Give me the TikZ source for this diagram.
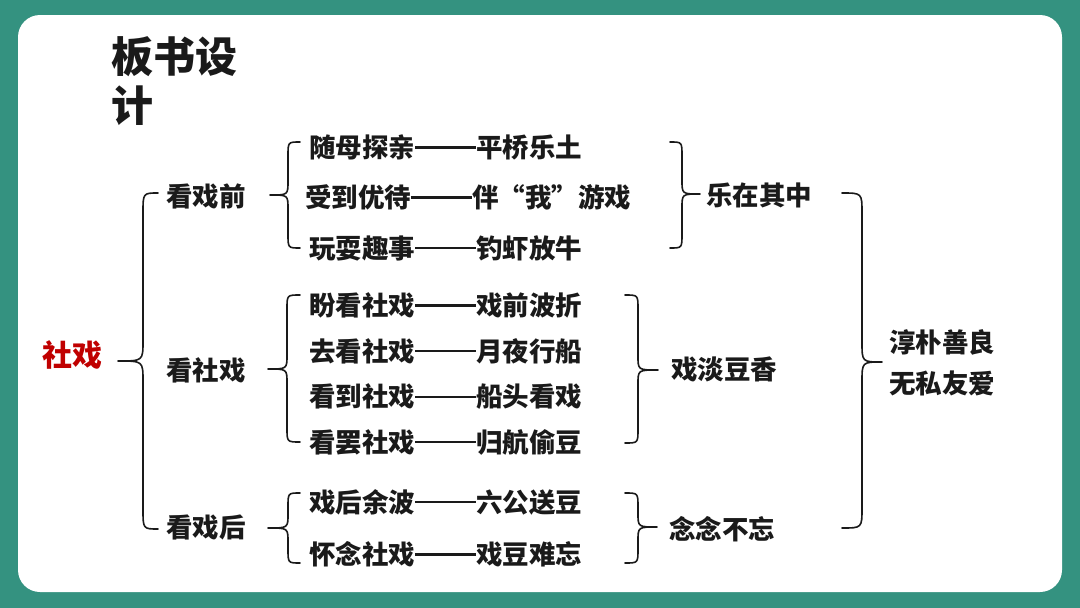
\documentclass[tikz,border=0pt]{standalone}
\usepackage{fontspec}
\setmainfont{Noto Sans CJK SC}
\definecolor{teal0}{RGB}{52,146,128}
\definecolor{red0}{RGB}{192,0,0}
\definecolor{ink}{RGB}{26,26,26}
% #1 end x, #2 vertical x, #3 tip x, #4 top y, #5 tip y, #6 bottom y, #7 curl radius
\newcommand{\curlybrace}[7]{\draw[brc] (#1,#4) .. controls (#2,#4) .. (#2,{#4+#7}) -- (#2,{#5-#7}) .. controls (#2,#5) .. (#3,#5) .. controls (#2,#5) .. (#2,{#5+#7}) -- (#2,{#6-#7}) .. controls (#2,#6) .. (#1,#6);}
\newcommand{\longdash}{\rule[0.325em]{2.3em}{0.105em}}
\tikzset{
  brc/.style={draw=ink, line width=1.6pt, line join=round, line cap=round},
  item/.style={anchor=west, inner sep=0pt, text=ink, font=\fontsize{26.5}{30}\selectfont\bfseries},
  head/.style={item},
  ttl/.style={anchor=west, inner sep=0pt, text=ink, font=\fontsize{42}{48}\selectfont\bfseries},
  rootnode/.style={anchor=west, inner sep=0pt, text=red0, font=\fontsize{30}{34}\selectfont\bfseries}
}
\begin{document}
\begin{tikzpicture}[x=1pt,y=-1pt]
\useasboundingbox (0,0) rectangle (1080,608);
\fill[teal0] (0,0) rectangle (1080,608);
\fill[white, rounded corners=22pt] (18,15) rectangle (1062,592);

\node[ttl] (t1) at (111,57) {板书设};
\node[ttl] (t2) at (111,106) {计};

\node[rootnode] (root) at (42,355) {社戏};
\node[head] (h1) at (166,196) {看戏前};
\node[head] (h2) at (166,370) {看社戏};
\node[head] (h3) at (166,527) {看戏后};

\node[item] (a1) at (309,147) {随母探亲\longdash 平桥乐土};
\node[item] (a2) at (305,197) {受到优待\longdash 伴“我”游戏};
\node[item] (a3) at (309,248) {玩耍趣事\longdash 钓虾放牛};

\node[item] (b1) at (309,305) {盼看社戏\longdash 戏前波折};
\node[item] (b2) at (309,351) {去看社戏\longdash 月夜行船};
\node[item] (b3) at (309,397) {看到社戏\longdash 船头看戏};
\node[item] (b4) at (309,442) {看罢社戏\longdash 归航偷豆};

\node[item] (c1) at (309,502) {戏后余波\longdash 六公送豆};
\node[item] (c2) at (309,554) {怀念社戏\longdash 戏豆难忘};

\node[item] (s1) at (706,195) {乐在其中};
\node[item] (s2) at (671,369) {戏淡豆香};
\node[item] (s3) at (669,529) {念念不忘};

\node[item] (f1) at (889,342) {淳朴善良};
\node[item] (f2) at (889,383) {无私友爱};

\curlybrace{158}{143}{118}{193}{361}{529}{20}
\curlybrace{300}{288}{270}{142}{195}{248}{14}
\curlybrace{670}{682}{700}{142}{194}{248}{14}
\curlybrace{300}{287}{268}{295}{369}{442}{14}
\curlybrace{625}{638}{658}{295}{370}{443}{14}
\curlybrace{300}{288}{268}{493}{528}{563}{14}
\curlybrace{625}{638}{657}{493}{527}{563}{14}
\curlybrace{842}{862}{882}{193}{362}{528}{20}
\end{tikzpicture}
\end{document}
